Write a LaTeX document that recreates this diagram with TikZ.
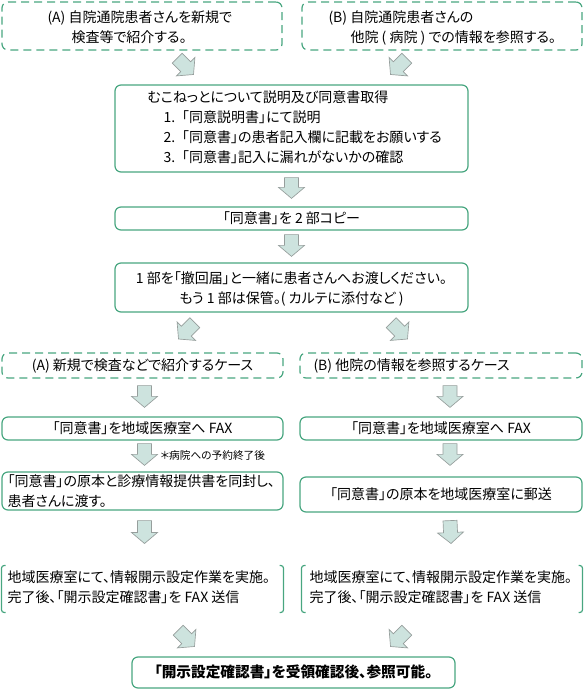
\documentclass[tikz,border=0pt]{standalone}
\usepackage{fontspec}
\setmainfont[RawFeature=+palt]{Noto Sans CJK JP}
\newfontfamily\jpfull{Noto Sans CJK JP}
\usetikzlibrary{calc,fit}

\definecolor{boxgreen}{RGB}{72,166,128}
\definecolor{arrowfill}{RGB}{205,227,222}
\definecolor{arrowline}{RGB}{150,158,156}

\tikzset{every picture/.style={line width=0.75pt}}
\tikzset{
  solidbox/.style={draw=boxgreen, rounded corners=4.5pt, line width=0.9pt, inner sep=0pt},
  dashbox/.style={solidbox, dash pattern=on 6pt off 3.75pt},
  bracketbox/.style={inner sep=0pt},
  bracketline/.style={draw=boxgreen, rounded corners=2pt, line width=0.9pt},
  fatarrow/.style={fill=arrowfill, draw=arrowline, line width=0.5pt, line join=miter},
  txt/.style={inner sep=0pt, font=\fontsize{10.5pt}{15pt}\selectfont},
  notetxt/.style={inner sep=0pt, font=\fontsize{8pt}{10pt}\selectfont},
  finaltxt/.style={inner sep=0pt, font=\fontsize{11pt}{15pt}\selectfont\bfseries}
}

% block arrow from tail #1 to tip #2
\newcommand{\fatarrow}[2]{%
  \coordinate (fa-t) at (#1);
  \coordinate (fa-q) at (#2);
  \coordinate (fa-h) at ($(fa-q)!8.25pt!(fa-t)$);
  \draw[fatarrow] ($(fa-t)!5.25pt!90:(fa-q)$) -- ($(fa-h)!5.25pt!90:(fa-q)$) -- ($(fa-h)!9.75pt!90:(fa-q)$) -- (fa-q) -- ($(fa-h)!9.75pt!-90:(fa-q)$) -- ($(fa-h)!5.25pt!-90:(fa-q)$) -- ($(fa-t)!5.25pt!-90:(fa-q)$) -- cycle;
}

\begin{document}
\begin{tikzpicture}[x=0.75pt,y=0.75pt,yscale=-1,xscale=1]
\useasboundingbox (0,0) rectangle (584,696);

%Rounded Rect: top A
\node[dashbox, fit={(2,2) (282,50)}] (topA) {};
%Rounded Rect: top B
\node[dashbox, fit={(302,2) (582,50)}] (topB) {};
%Rounded Rect: consent
\node[solidbox, fit={(115,85) (468,172)}] (consent) {};
%Rounded Rect: copy
\node[solidbox, fit={(115,207) (468,230)}] (copy) {};
%Rounded Rect: hand over
\node[solidbox, fit={(115,263) (468,312)}] (hand) {};
%Rounded Rect: case A / case B
\node[dashbox, fit={(2,353) (283,378)}] (caseA) {};
\node[dashbox, fit={(300,353) (582,378)}] (caseB) {};
%Rounded Rect: FAX A / FAX B
\node[solidbox, fit={(2,417) (283,440)}] (faxA) {};
\node[solidbox, fit={(300,417) (582,440)}] (faxB) {};
%Rounded Rect: original A / original B
\node[solidbox, fit={(2,472) (283,510)}] (origA) {};
\node[solidbox, fit={(300,477) (582,512)}] (origB) {};
%Brackets: regional office A / B
\node[bracketbox, fit={(2,566) (283,612)}] (regA) {};
\node[bracketbox, fit={(302,566) (582,612)}] (regB) {};
\foreach \b in {regA,regB}{
  \draw[bracketline] ([xshift=3pt]\b.north west) -- (\b.north west) -- (\b.south west) -- ([xshift=3pt]\b.south west);
  \draw[bracketline] ([xshift=-3pt]\b.north east) -- (\b.north east) -- (\b.south east) -- ([xshift=-3pt]\b.south east);
}
%Rounded Rect: final
\node[solidbox, fit={(132,657) (455,688)}] (final) {};

%Block arrows (diagonal ends)
\coordinate (dA1t) at (177.2,58.2);  \coordinate (dA1q) at (193.5,74.5);
\coordinate (dB1t) at (406.8,58.2);  \coordinate (dB1q) at (390.5,74.5);
\coordinate (dA2t) at (194.8,322.7); \coordinate (dA2q) at (178.5,339);
\coordinate (dB2t) at (391.2,322.7); \coordinate (dB2q) at (407.5,339);
\coordinate (dA3t) at (178.2,630.2); \coordinate (dA3q) at (194.5,646.5);
\coordinate (dB3t) at (406.8,630.2); \coordinate (dB3q) at (390.5,646.5);
\fatarrow{dA1t}{dA1q}
\fatarrow{dB1t}{dB1q}
\fatarrow{dA2t}{dA2q}
\fatarrow{dB2t}{dB2q}
\fatarrow{dA3t}{dA3q}
\fatarrow{dB3t}{dB3q}
%Block arrows (vertical)
\fatarrow{$(consent.south)+(0,5)$}{$(copy.north)+(0,-8)$}
\fatarrow{$(copy.south)+(0,4)$}{$(hand.north)+(0,-6)$}
\fatarrow{$(caseA.south)+(2,7)$}{$(faxA.north)+(2,-9)$}
\fatarrow{$(caseB.south)+(9,7)$}{$(faxB.north)+(9,-9)$}
\fatarrow{$(faxA.south)+(2,3)$}{$(origA.north)+(2,-6)$}
\fatarrow{$(faxB.south)+(9,3)$}{$(origB.north)+(9,-11)$}
\fatarrow{$(origA.south)+(2,10)$}{$(regA.north)+(2,-22)$}
\fatarrow{$(origB.south)+(9,8)$}{$(regB.north)+(9,-22)$}

% Text Node
\node[txt, anchor=base west] (tA1) at (47,22) {(A) 自院通院患者さんを新規で};
\node[txt, anchor=base west] (tA2) at (71,42) {検査等で紹介する。};
% Text Node
\node[txt, anchor=base west] (tB1) at (328,22) {(B) 自院通院患者さんの};
\node[txt, anchor=base west] (tB2) at (350,42) {他院 ( 病院 ) での情報を参照する。};
% Text Node
\node[txt, anchor=base west] (tC0) at (147,102) {むこねっとについて説明及び同意書取得};
\node[txt, anchor=base west] (tC1) at (163,122) {1.{\jpfull 「}同意説明書」にて説明};
\node[txt, anchor=base west] (tC2) at (163,142) {2.{\jpfull 「}同意書」の患者記入欄に記載をお願いする};
\node[txt, anchor=base west] (tC3) at (163,162) {3.{\jpfull 「}同意書」記入に漏れがないかの確認};
% Text Node
\node[txt, anchor=base] (tCopy) at (291.5,223.5) {「同意書」を 2 部コピー};
% Text Node
\node[txt, anchor=base] (tH1) at (291.5,283) {1 部を「撤回届」と一緒に患者さんへお渡しください。};
\node[txt, anchor=base] (tH2) at (291.5,303) {もう 1 部は保管。( カルテに添付など )};
% Text Node
\node[txt, anchor=base] (tCaseA) at (142.5,370.5) {(A) 新規で検査などで紹介するケース};
\node[txt, anchor=base west] (tCaseB) at (313,370.5) {(B) 他院の情報を参照するケース};
% Text Node
\node[txt, anchor=base] (tFaxA) at (142.5,433.5) {「同意書」を地域医療室へ FAX};
\node[txt, anchor=base] (tFaxB) at (441,433.5) {「同意書」を地域医療室へ FAX};
% Text Node
\node[notetxt, anchor=base west] (tNote) at (160,459) {＊病院への予約終了後};
% Text Node
\node[txt, anchor=base west] (tOA1) at (7,486) {「同意書」の原本と診療情報提供書を同封し、};
\node[txt, anchor=base west] (tOA2) at (7,506) {患者さんに渡す。};
\node[txt, anchor=base] (tOB) at (441,499.5) {「同意書」の原本を地域医療室に郵送};
% Text Node
\node[txt, anchor=base west] (tRA1) at (7,582) {地域医療室にて、情報開示設定作業を実施。};
\node[txt, anchor=base west] (tRA2) at (7,602) {完了後、「開示設定確認書」を FAX 送信};
\node[txt, anchor=base west] (tRB1) at (309,582) {地域医療室にて、情報開示設定作業を実施。};
\node[txt, anchor=base west] (tRB2) at (309,602) {完了後、「開示設定確認書」を FAX 送信};
% Text Node
\node[finaltxt, anchor=base] (tFinal) at (293.5,677.5) {「開示設定確認書」を受領確認後、参照可能。};

\end{tikzpicture}
\end{document}
